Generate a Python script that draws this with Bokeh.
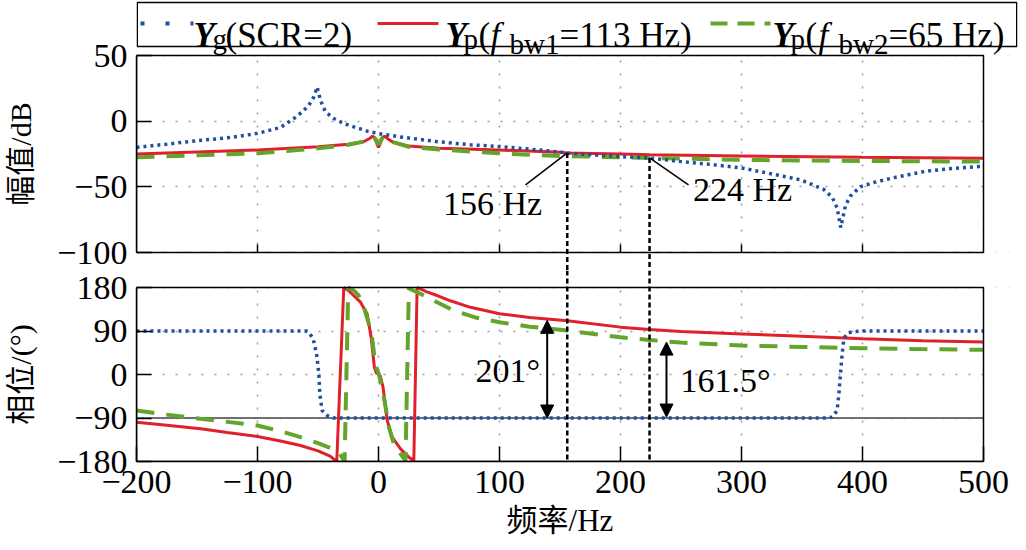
from bokeh.plotting import figure
from bokeh.layouts import column
from bokeh.models import FixedTicker, Arrow, NormalHead, Range1d, LinearAxis
from bokeh.core.properties import value
from bokeh.embed import file_html
from bokeh.resources import INLINE

# ---------------- data ----------------
# magnitude (dB)
f_mag_g = [-200, -175, -150, -122, -100, -81, -70, -63, -57.6, -53.5, -50.7, -48, -43.8, -36.9, -28.7,
           -20.4, -9.3, 0, 20.9, 48.6, 76, 100, 131, 156, 180, 200, 224, 250, 275, 300, 329.5, 349,
           368, 375, 379, 382, 386, 390, 398, 410, 426, 453, 475, 496, 500]
mag_g = [-20, -17.5, -14.9, -12.4, -9.3, -4.8, 2.0, 7.1, 12.1, 18.4, 26, 16, 7.1, 2, -1.8,
         -4.3, -7.6, -9.5, -12.4, -15.6, -18, -19.3, -21.8, -24.2, -25.8, -27, -28, -30.8, -33, -35.6, -41, -44.7,
         -52, -58, -66, -81, -64, -57, -50, -46.5, -43, -38, -36, -34.6, -34.5]

f_mag_p1 = [-200, -150, -100, -50, -25, -12, -7, -5, -3, -1, 0, 1, 3, 5, 7, 12, 25, 50, 100, 150, 156,
            200, 224, 300, 400, 500]
mag_p1 = [-25, -23.5, -22, -19.5, -17.6, -15.5, -13, -11.4, -13, -18, -20, -18, -13, -11.4, -13, -16, -19,
          -20.7, -22, -23.6, -24.2, -25, -25.6, -26.5, -27.5, -28.3]

f_mag_p2 = [-200, -150, -100, -50, -25, -12, -7, -5, -3, -1, 0, 1, 3, 5, 7, 12, 25, 50, 100, 150, 200,
            224, 300, 400, 500]
mag_p2 = [-27.5, -26, -24.5, -20.7, -18, -15.5, -13, -11.4, -13, -16.5, -18, -16.5, -13, -11.4, -13, -16,
          -19.5, -21.5, -24.5, -26.5, -27.5, -28, -29.5, -30.3, -30.8]

# phase (deg)
f_ph_g = [-200, -100, -60, -57.6, -54, -51.2, -49.3, -48.5, -46.6, -42.4, -37, 0, 100, 200, 300, 370,
          375, 379, 380.5, 381.8, 383.2, 384.6, 387.3, 393, 400, 500]
ph_g = [90, 90, 90, 87.6, 73.8, 42.8, 1.4, -40, -74.5, -85, -90, -90, -90, -90, -90, -90,
        -88.3, -74.5, -40, 1.4, 42.8, 73.8, 85.5, 89, 90, 90]

f_ph_p1 = [-200, -175, -147, -125, -100, -80, -64.5, -50, -40, -34.5, -28.7, -24, -20.4, -14.9, -9.4, -6.1,
           -3.4, -1.8, 0, 1.5, 3.7, 5.5, 7.2, 11.3, 18.2, 25.1, 29.2, 31.9, 40, 48.5, 60, 76, 100, 125,
           156, 200, 224, 250, 300, 350, 400, 450, 500]
ph_p1 = [-98.7, -105, -112.4, -120, -128.3, -138, -146.9, -158, -169, -180, 180, 172, 163, 149.6, 125.6, 77,
         15, 3, 1, -3, -25.7, -60, -95, -129.7, -153.8, -171, -178, 180, 171, 163.4, 152, 139, 125.6, 118,
         111, 98, 93, 89, 84, 79, 74, 70, 67]

f_ph_p2 = [-200, -175, -147, -125, -100, -80, -64.5, -50, -40, -32.8, -28, -25, -20.4, -16.3, -12.1, -8,
           -5.2, -2.5, 0.3, 3, 5.8, 8.5, 12.7, 18.2, 22.3, 25.1, 34.7, 48, 62.3, 80, 100, 125, 156, 200,
           224, 250, 300, 350, 400, 450, 500]
ph_p2 = [-74.5, -83, -91.7, -98, -105.5, -118, -129.7, -142, -152, -160.8, -180, 180, 174, 163, 139, 105,
         74, 19.5, 0, -25.7, -67, -108.5, -143, -164, -178, 178, 167, 150, 132, 118, 108, 99, 91, 77,
         71.5, 66, 60, 57, 54.4, 52.5, 51]

ref_f = [-200, 500]
ref_ph = [-90, -90]

marker_f = [156, 224]
marker_db = [-24.2, -28.0]

x_ticks = [-200, -100, 0, 100, 200, 300, 400, 500]
mag_ticks = [-100, -50, 0, 50]
ph_ticks = [-180, -90, 0, 90, 180]

# ---------------- styles / geometry (px) ----------------
SERIF = "Liberation Serif"
CJK = "Liberation Serif, Noto Sans CJK SC"
BLUE = "#1f4f9e"
RED = "#e0202a"
GREEN = "#63a52c"
W = 1025
LEFT = 136
FRAME_R = 1017
RIGHT = W - FRAME_R
X0, X1 = -200, 500
M0, M1 = -100, 50
P0, P1 = -180, 180
PX_PER_HZ = (983 - 136) / (X1 - X0)
XR_END = X0 + (FRAME_R - LEFT) / PX_PER_HZ
MAG_TOP_PX, MAG_BOT_PX = 55, 252
PH_TOP_PX, PH_BOT_PX = 287, 461
SPLIT = 270
TOTAL_H = 549
PX_PER_DB = (MAG_BOT_PX - MAG_TOP_PX) / (M1 - M0)
PX_PER_DEG = (PH_BOT_PX - PH_TOP_PX) / (P1 - P0)
YA_TOP = M1 + MAG_TOP_PX / PX_PER_DB
YA_BOT = M0 - (SPLIT - MAG_BOT_PX) / PX_PER_DB
YB_TOP = P1 + (PH_TOP_PX - SPLIT) / PX_PER_DEG
TICK_FS = "34px"

xr = Range1d(X0, XR_END)


def style_common(p):
    p.outline_line_color = None
    p.grid.grid_line_color = "#9a9a9a"
    p.grid.grid_line_dash = "2 11"
    p.grid.grid_line_width = 1.5
    for ax in p.axis:
        ax.axis_line_color = "black"
        ax.axis_line_width = 1.5
        ax.major_tick_line_color = "black"
        ax.major_tick_line_width = 1.5
        ax.minor_tick_line_color = None
        ax.major_tick_out = 0
        ax.major_tick_in = 15
        ax.major_label_text_font = SERIF
        ax.major_label_text_font_size = TICK_FS
        ax.major_label_text_color = "black"
        ax.major_label_standoff = 9


def title_axis(text, pos, standoff, size):
    # an extra axis with one labelled position, used as the centred axis title
    return LinearAxis(ticker=FixedTicker(ticks=[pos]), major_label_overrides={pos: text},
                      axis_line_color=None, major_tick_line_color=None, minor_tick_line_color=None,
                      major_tick_in=0, major_tick_out=0, major_label_standoff=standoff,
                      major_label_text_font=CJK, major_label_text_font_size=size,
                      major_label_text_color="black")


def minus(ticks):
    return {t: ("\u2212" + str(-t)) for t in ticks if t < 0}


# ---------------- figure A: legend + magnitude ----------------
pa = figure(width=W, height=SPLIT, x_range=xr, y_range=Range1d(YA_BOT, YA_TOP), title=None,
            toolbar_location=None, output_backend="svg", x_axis_location=None,
            min_border_left=LEFT, min_border_right=RIGHT, min_border_top=0, min_border_bottom=0)
pa.extra_x_ranges = {"px": Range1d(LEFT, FRAME_R)}
pa.extra_y_ranges = {"py": Range1d(SPLIT, 0)}
pa.xgrid.ticker = FixedTicker(ticks=x_ticks)
pa.yaxis.ticker = FixedTicker(ticks=mag_ticks)
pa.yaxis.bounds = (M0, M1)
style_common(pa)
pa.yaxis.major_label_overrides = minus(mag_ticks)
t = title_axis("幅值/dB", (M0 + M1) // 2, 18, "30px")
t.major_label_orientation = "parallel"
pa.add_layout(t, "left")

# hide grid outside the plot box
pa.quad(left=[X0, X0, X1], right=[XR_END, XR_END, XR_END], bottom=[M1, YA_BOT, M0], top=[YA_TOP, M0, M1],
        fill_color="white", line_color=None)
pa.line(f_mag_p1, mag_p1, line_color=RED, line_width=3)
pa.line(f_mag_p2, mag_p2, line_color=GREEN, line_width=4, line_dash="18 12")
pa.line(f_mag_g, mag_g, line_color=BLUE, line_width=3.5, line_dash="3 4")
inner = x_ticks[1:-1]
tick_db = 8 / PX_PER_DB
pa.segment(x0=inner, y0=[M0] * len(inner), x1=inner, y1=[M0 + tick_db] * len(inner),
           line_color="black", line_width=1.5)
pa.segment(x0=marker_f, y0=marker_db, x1=marker_f, y1=[YA_BOT, YA_BOT], line_color="black",
           line_width=2.5, line_dash="5 3")
pa.segment(x0=[121.5, 224], y0=[-48.5, -28], x1=[156, 256.2], y1=[-24.2, -48.5], line_color="black",
           line_width=1.5)
pa.text(x=[94.2, 300.8], y=[-62.5, -52.3], text=["156 Hz", "224 Hz"], text_font=value(SERIF),
        text_font_size="34px", text_align="center", text_baseline="middle", text_color="black")
pa.quad(left=[X0], right=[X1], bottom=[M0], top=[M1], fill_color=None, line_color="black", line_width=1.5)

# legend (pixel coordinates through the extra ranges)
L = dict(x_range_name="px", y_range_name="py")
pa.quad(left=[136.75], right=[1016.25], top=[2], bottom=[46], fill_color="white",
        line_color="black", line_width=1.5, **L)
pa.line([140, 193], [23, 23], line_color=BLUE, line_width=4, line_dash="4 21", **L)
pa.line([377, 438], [23, 23], line_color=RED, line_width=3, **L)
pa.line([710, 770], [23, 23], line_color=GREEN, line_width=4, line_dash="17 10", **L)
pa.text(x=[193, 445, 772], y=[35, 35, 35], text=["Y", "Y", "Y"], text_font=value(SERIF),
        text_font_size="35px", text_font_style="bold italic", text_baseline="alphabetic",
        text_color="black", **L)
pa.text(x=[212, 463, 790], y=[38, 38, 38], text=["g", "p", "p"], text_font=value(SERIF),
        text_font_size="29px", text_baseline="alphabetic", text_color="black", **L)
pa.text(x=[490, 818], y=[35, 35], text=["f", "f"], text_font=value(SERIF),
        text_font_size="35px", text_font_style="italic", text_baseline="alphabetic", text_color="black", **L)
pa.text(x=[509, 838], y=[43, 43], text=["bw1", "bw2"], text_font=value(SERIF),
        text_font_size="29px", text_baseline="alphabetic", text_color="black", **L)
pa.text(x=[225, 478, 559, 805, 888], y=[35, 35, 35, 35, 35],
        text=["(SCR=2)", "(", "=113 Hz)", "(", "=65 Hz)"], text_font=value(SERIF),
        text_font_size="35px", text_baseline="alphabetic", text_color="black", **L)

# ---------------- figure B: phase ----------------
pb = figure(width=W, height=TOTAL_H - SPLIT, x_range=xr, y_range=Range1d(P0, YB_TOP), title=None,
            toolbar_location=None, output_backend="svg",
            min_border_left=LEFT, min_border_right=RIGHT, min_border_top=0,
            min_border_bottom=TOTAL_H - PH_BOT_PX)
pb.xaxis.ticker = FixedTicker(ticks=x_ticks)
pb.yaxis.ticker = FixedTicker(ticks=ph_ticks)
pb.xaxis.bounds = (X0, X1)
pb.yaxis.bounds = (P0, P1)
style_common(pb)
pb.xaxis.major_label_overrides = minus(x_ticks)
pb.yaxis.major_label_overrides = minus(ph_ticks)
t = title_axis("相位/(°)", (P0 + P1) // 2, 18, "30px")
t.major_label_orientation = "parallel"
pb.add_layout(t, "left")
pb.add_layout(title_axis("频率/Hz", (X0 + X1) // 2, 7, "31px"), "below")

pb.quad(left=[X0, X1], right=[XR_END, XR_END], bottom=[P1, P0], top=[YB_TOP, P1],
        fill_color="white", line_color=None)
pb.line(ref_f, ref_ph, line_color="#707070", line_width=2)
pb.line(f_ph_p1, ph_p1, line_color=RED, line_width=3)
pb.line(f_ph_p2, ph_p2, line_color=GREEN, line_width=4, line_dash="18 12")
pb.line(f_ph_g, ph_g, line_color=BLUE, line_width=3.5, line_dash="3 4")
pb.segment(x0=marker_f, y0=[YB_TOP, YB_TOP], x1=marker_f, y1=[P0, P0], line_color="black",
           line_width=2.5, line_dash="5 3")
for xa, ya, yb in [(139.4, -90, 112), (238, -88, 67)]:
    pb.add_layout(Arrow(x_start=xa, y_start=ya, x_end=xa, y_end=yb, line_color="black", line_width=2,
                        start=NormalHead(size=13, fill_color="black", line_color="black"),
                        end=NormalHead(size=13, fill_color="black", line_color="black")))
pb.text(x=[80.2, 249.6], y=[8.3, -12.4], text=["201°", "161.5°"], text_font=value(SERIF),
        text_font_size="34px", text_align="left", text_baseline="middle", text_color="black")
pb.quad(left=[X0], right=[X1], bottom=[P0], top=[P1], fill_color=None, line_color="black", line_width=1.5)

layout = column(pa, pb, spacing=0)
open("out.html", "w").write(file_html(layout, INLINE))
